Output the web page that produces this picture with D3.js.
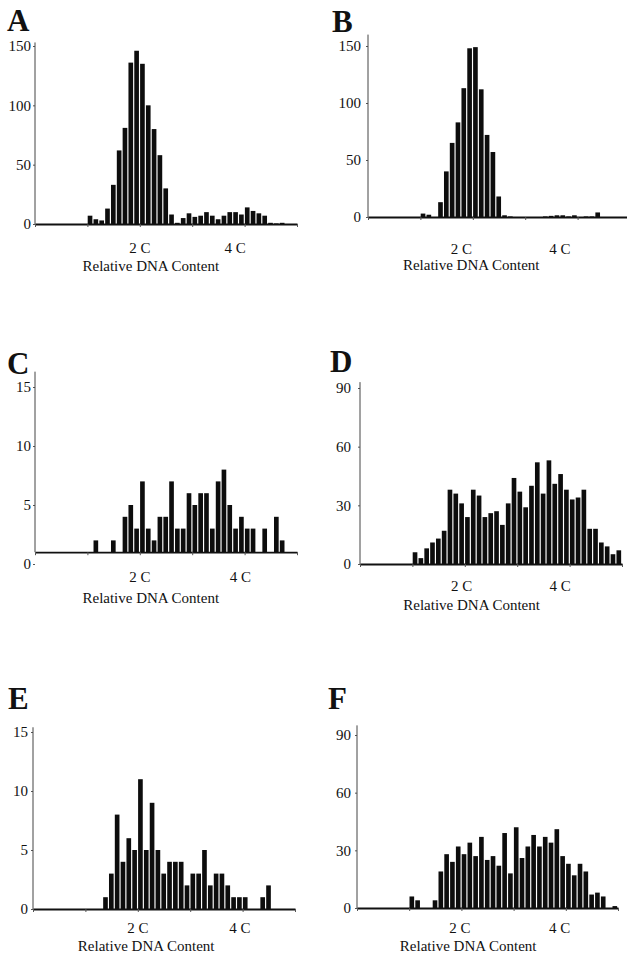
<!DOCTYPE html>
<html>
<head>
<meta charset="utf-8">
<script src="https://cdn.jsdelivr.net/npm/d3@7"></script>
<style>
body{margin:0;background:#fff;}
svg{display:block;font-family:"Liberation Serif","Times New Roman",serif;}
</style>
</head>
<body>
<div id="chart"></div>
<script>
// counts per bin; 9 bins per C unit, first listed bin starts at 1 C
var binsPerUnit = 9;
var firstBin = 1;

var countsA = [7,4,3,13,33, 62,81,136,146,135, 100,80,58,30,8, 1,5,9,6,7, 10,7,4,7,10, 10,8,14,11,9, 7,1,0.5,1,0, 0];
var countsB = [3,2,0,13,40, 65,83,113,148,149, 112,72,57,18,1.5, 0.5,0,0,0,0, 0,0.5,1,1.5,1.5, 0.5,1.5,0,0.5,0.5, 4,0,0,0,0, 0];
var countsC = [0,2,0,0,2, 0,4,5,3,7, 3,2,4,4,7, 3,3,6,5,6, 6,3,7,8,5, 3,4,3,3,0, 3,0,4,2,0, 0];
var countsD = [6,3,8,11,13, 17,38,36,31,24, 38,35,24,26,27, 20,31,44,37,29, 40,52,36,53,41, 46,38,33,34,38, 18,18,11,9,5, 7];
var countsE = [0,0,0,1,3, 8,4,6,5,11, 5,9,5,3,4, 4,4,2,3,3, 5,2,3,3,2, 1,1,1,0,0, 1,2,0,0,0, 0];
var countsF = [6,4,0,0,4, 19,28,24,32,28, 34,27,37,25,27, 22,39,18,42,26, 32,38,32,37,34, 41,27,23,17,23, 19,7,8,6,0, 1];

var ticks150 = [0,50,100,150];
var ticks15 = [0,5,10,15];
var ticks90 = [0,30,60,90];
var xTickUnits = [0,1,2,3,4,5];
var xLabels = ['2 C','4 C'];
var axisTitle = 'Relative DNA Content';

// layout of each panel (pixels)
var panels = [
  {letter:'A', counts:countsA, yTicks:ticks150, yMax:150, axisTop:153, base:0,
   left:35, right:297, zeroY:224, maxY:46, gap:3, lblPos:[2.0,3.82], titlePos:2.21, lblY:248, titleY:266, lx:7, ly:31},
  {letter:'B', counts:countsB, yTicks:ticks150, yMax:150, axisTop:160, base:0,
   left:368, right:630, zeroY:217, maxY:46, gap:6, lblPos:[1.78,3.66], titlePos:1.97, lblY:249, titleY:265, lx:332, ly:32},
  {letter:'C', counts:countsC, yTicks:ticks15, yMax:15, axisTop:16.3, base:1,
   left:35, right:297, zeroY:564, maxY:387, gap:3, lblPos:[2.0,3.92], titlePos:2.21, lblY:577, titleY:598, lx:7, ly:374},
  {letter:'D', counts:countsD, yTicks:ticks90, yMax:90, axisTop:93, base:0,
   left:360, right:622, zeroY:564, maxY:388, gap:8, lblPos:[1.94,3.82], titlePos:2.13, lblY:586, titleY:605, lx:330, ly:372},
  {letter:'E', counts:countsE, yTicks:ticks15, yMax:15, axisTop:15.4, base:0,
   left:33, right:295, zeroY:909, maxY:732, gap:4, lblPos:[2.0,3.95], titlePos:2.16, lblY:928, titleY:946, lx:8, ly:709},
  {letter:'F', counts:countsF, yTicks:ticks90, yMax:90, axisTop:95, base:0,
   left:357, right:618, zeroY:908, maxY:735, gap:5, lblPos:[1.97,3.88], titlePos:2.13, lblY:928, titleY:946, lx:328, ly:709}
];

var svg = d3.select('#chart').append('svg')
  .attr('width', 627)
  .attr('height', 956);

function drawHistogram(p){
  var g = svg.append('g');
  var x = d3.scaleLinear().domain([0,5]).range([p.left, p.right]);
  var y = d3.scaleLinear().domain([0, p.yMax]).range([p.zeroY, p.maxY]);
  var baseY = y(p.base);
  var binW = x(1/binsPerUnit) - x(0);

  var bins = p.counts.map(function(v, i){
    return {x0: firstBin + i / binsPerUnit, v: v};
  }).filter(function(d){ return d.v > p.base; });

  g.selectAll('rect')
    .data(bins)
    .enter().append('rect')
    .attr('x', function(d){ return x(d.x0) + 0.3; })
    .attr('width', binW * 0.8)
    .attr('y', function(d){ return y(d.v); })
    .attr('height', function(d){ return baseY - y(d.v); })
    .attr('fill', '#0d0d0d');

  // y axis
  var yAxis = g.append('g')
    .attr('transform', 'translate(' + p.left + ',0)')
    .call(d3.axisLeft(y).tickValues(p.yTicks).tickSize(2).tickSizeOuter(0).tickPadding(p.gap - 1));
  yAxis.select('.domain').remove();
  yAxis.selectAll('line').attr('stroke', '#555');
  yAxis.selectAll('text')
    .attr('font-size', 15)
    .attr('font-family', '"Liberation Serif","Times New Roman",serif')
    .attr('fill', '#111');
  g.append('line')
    .attr('x1', p.left).attr('x2', p.left)
    .attr('y1', baseY).attr('y2', y(p.axisTop))
    .attr('stroke', '#444')
    .attr('stroke-width', 1);

  // x axis
  var xAxis = g.append('g')
    .attr('transform', 'translate(0,' + baseY + ')')
    .call(d3.axisBottom(x).tickValues(xTickUnits).tickSize(3).tickSizeOuter(0).tickFormat(''));
  xAxis.select('.domain').attr('stroke', '#111').attr('stroke-width', 1.8);
  xAxis.selectAll('line').attr('stroke', '#555');

  g.selectAll('text.clabel')
    .data(xLabels)
    .enter().append('text')
    .attr('class', 'clabel')
    .attr('x', function(d, i){ return x(p.lblPos[i]); })
    .attr('y', p.lblY)
    .attr('dy', '0.35em')
    .attr('text-anchor', 'middle')
    .attr('font-size', 15)
    .attr('fill', '#111')
    .text(function(d){ return d; });

  g.append('text')
    .attr('x', x(p.titlePos))
    .attr('y', p.titleY)
    .attr('dy', '0.35em')
    .attr('text-anchor', 'middle')
    .attr('font-size', 15)
    .attr('fill', '#111')
    .text(axisTitle);

  g.append('text')
    .attr('x', p.lx)
    .attr('y', p.ly)
    .attr('font-size', 31)
    .attr('font-weight', 'bold')
    .attr('fill', '#111')
    .text(p.letter);
}

panels.forEach(drawHistogram);
</script>
</body>
</html>
